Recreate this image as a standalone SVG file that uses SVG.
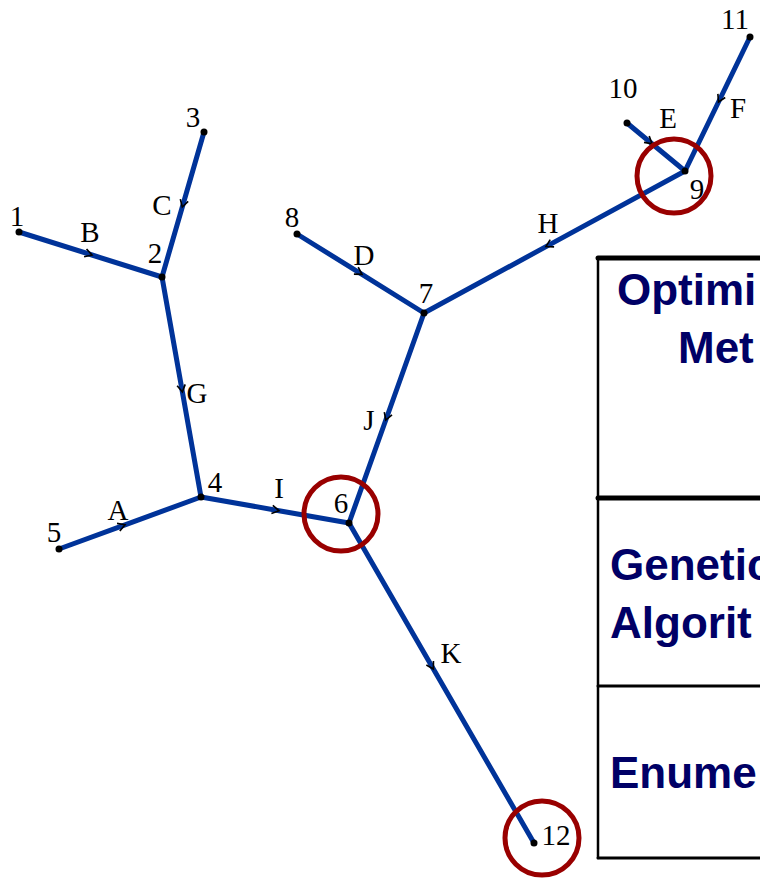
<svg xmlns="http://www.w3.org/2000/svg" width="760" height="878" viewBox="0 0 760 878">
<defs>
<marker id="arr" markerUnits="userSpaceOnUse" markerWidth="14" markerHeight="14" viewBox="-8 -6 12 12" refX="0" refY="0" orient="auto">
<path d="M-6,-3.5 L0,0 L-6,3.5" fill="none" stroke="#000" stroke-width="1.4"/>
</marker>
</defs>
<style>
.e{fill:none;stroke:#003399;stroke-width:5;marker-mid:url(#arr)}
.n{fill:#000}
.t{font-family:"Liberation Serif","Times New Roman",serif;font-size:29px;fill:#000;text-anchor:middle}
.c{fill:none;stroke:#990000;stroke-width:5}
.tb{font-family:"Liberation Sans",Arial,sans-serif;font-weight:bold;font-size:44px;fill:#000066}
.tl{stroke:#000;stroke-linecap:round}
</style>
<rect width="760" height="878" fill="#fff"/>
<g id="connectors">
<path id="A" class="e" d="M59,549 L125,524.8 L201,497"/>
<path id="B" class="e" d="M19,232 L92,255 L162,277"/>
<path id="C" class="e" d="M204,132 L182.3,207 L162,277"/>
<path id="G" class="e" d="M162,277 L182.4,392 L201,497"/>
<path id="I" class="e" d="M201,497 L279,510.7 L349,523"/>
<path id="J" class="e" d="M424,313 L385.8,420 L349,523"/>
<path id="D" class="e" d="M297,234 L362,274.4 L424,313"/>
<path id="H" class="e" d="M685,171 L546,246.6 L424,313"/>
<path id="E" class="e" d="M627,123 L652,143.7 L685,171"/>
<path id="F" class="e" d="M750,37 L718.5,102 L685,171"/>
<path id="K" class="e" d="M349,523 L433.4,669 L534,843"/>
</g>
<g id="edge-labels" class="t">
<text x="118" y="520">A</text>
<text x="90" y="242">B</text>
<text x="162" y="215">C</text>
<text x="364" y="265">D</text>
<text x="668" y="128">E</text>
<text x="738" y="118">F</text>
<text x="197" y="403">G</text>
<text x="548" y="233">H</text>
<text x="279" y="498">I</text>
<text x="369" y="430">J</text>
<text x="451" y="663">K</text>
</g>
<g id="n1"><circle class="n" cx="19" cy="232" r="3.5"/><text class="t" x="17" y="226">1</text></g>
<g id="n2"><circle class="n" cx="162" cy="277" r="3.5"/><text class="t" x="155" y="263">2</text></g>
<g id="n3"><circle class="n" cx="204" cy="132" r="3.5"/><text class="t" x="193" y="127">3</text></g>
<g id="n4"><circle class="n" cx="201" cy="497" r="3.5"/><text class="t" x="215" y="492">4</text></g>
<g id="n5"><circle class="n" cx="59" cy="549" r="3.5"/><text class="t" x="54" y="542">5</text></g>
<g id="n6"><circle class="n" cx="349" cy="523" r="3.5"/><text class="t" x="341" y="513">6</text></g>
<g id="n7"><circle class="n" cx="424" cy="313" r="3.5"/><text class="t" x="426" y="303">7</text></g>
<g id="n8"><circle class="n" cx="297" cy="234" r="3.5"/><text class="t" x="292" y="227">8</text></g>
<g id="n9"><circle class="n" cx="685" cy="171" r="3.5"/><text class="t" x="697" y="199">9</text></g>
<g id="n10"><circle class="n" cx="627" cy="123" r="3.5"/><text class="t" x="623" y="98">10</text></g>
<g id="n11"><circle class="n" cx="750" cy="37" r="3.5"/><text class="t" x="735" y="29">11</text></g>
<g id="n12"><circle class="n" cx="534" cy="843" r="3.5"/><text class="t" x="556" y="845">12</text></g>
<g id="highlights">
<circle class="c" cx="341" cy="514" r="37"/>
<circle class="c" cx="674" cy="176" r="37"/>
<circle class="c" cx="542" cy="838" r="37"/>
</g>
<g id="table">
<line class="tl" x1="598" y1="258" x2="598" y2="858" stroke-width="2.5"/>
<line class="tl" x1="598" y1="258" x2="765" y2="258" stroke-width="5"/>
<line class="tl" x1="598" y1="498" x2="765" y2="498" stroke-width="5"/>
<line class="tl" x1="598" y1="686" x2="765" y2="686" stroke-width="3"/>
<line class="tl" x1="598" y1="858" x2="765" y2="858" stroke-width="3"/>
<text class="tb" x="617" y="305">Optimi</text>
<text class="tb" x="678" y="363">Met</text>
<text class="tb" x="610" y="580">Genetic</text>
<text class="tb" x="610" y="638">Algorit</text>
<text class="tb" x="610" y="788">Enume</text>
</g>
</svg>
